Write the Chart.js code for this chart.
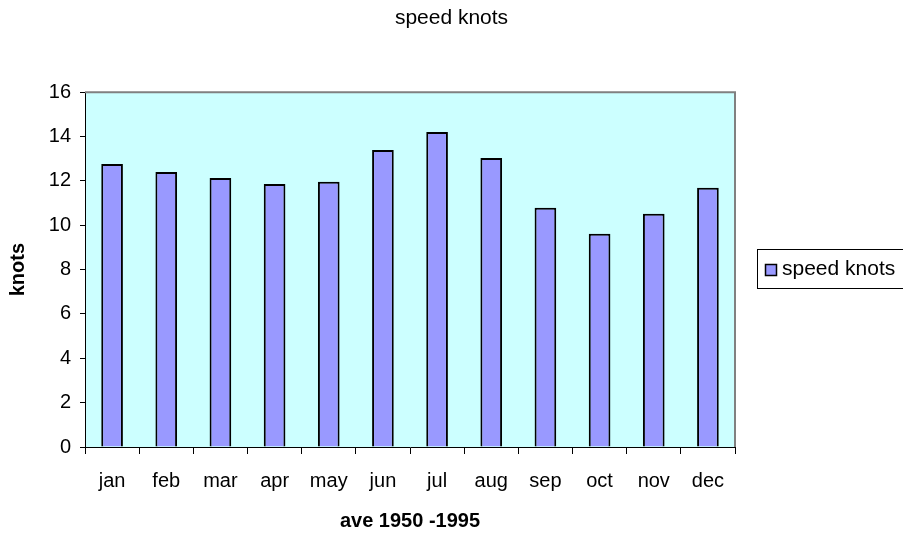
<!DOCTYPE html>
<html>
<head>
<meta charset="utf-8">
<script src="https://cdn.jsdelivr.net/npm/chart.js@4.4.1/dist/chart.umd.min.js"></script>
<style>
html,body{margin:0;padding:0;background:#fff;}
#wrap{width:903px;height:533px;position:relative;}
</style>
</head>
<body>
<div id="wrap"><canvas id="c" width="903" height="533"></canvas></div>
<script>
const categories = ['jan','feb','mar','apr','may','jun','jul','aug','sep','oct','nov','dec'];
const speedKnots = [12.76, 12.4, 12.13, 11.86, 11.96, 13.39, 14.2, 13.03, 10.79, 9.62, 10.52, 11.69];
const seriesLabel = 'speed knots';
const chartTitle = 'speed knots';
const yTitle = 'knots';
const xTitle = 'ave 1950 -1995';
const yTicks = [0, 2, 4, 6, 8, 10, 12, 14, 16];

const FONT = 'Liberation Sans, Arial, sans-serif';

const plotBg = {
  id: 'plotBg',
  beforeDraw(chart) {
    const {ctx, chartArea: a} = chart;
    ctx.save();
    ctx.fillStyle = '#CCFFFF';
    ctx.fillRect(a.left, a.top, a.right - a.left, a.bottom - a.top);
    ctx.restore();
  },
  afterDatasetsDraw(chart) {
    const {ctx, chartArea: a} = chart;
    ctx.save();
    ctx.strokeStyle = '#808080';
    ctx.lineWidth = 2;
    ctx.beginPath();
    ctx.moveTo(a.left, a.top);
    ctx.lineTo(a.right, a.top);
    ctx.lineTo(a.right, a.bottom);
    ctx.stroke();
    ctx.restore();
  }
};

const boxLegend = {
  id: 'boxLegend',
  afterDraw(chart) {
    const {ctx} = chart;
    const ds = chart.data.datasets[0];
    ctx.save();
    ctx.strokeStyle = '#000';
    ctx.lineWidth = 1;
    ctx.strokeRect(757.5, 249.5, 160, 39);
    ctx.fillStyle = ds.backgroundColor;
    ctx.fillRect(765, 264, 12, 12);
    ctx.strokeStyle = '#000';
    ctx.lineWidth = 1.5;
    ctx.strokeRect(765.5, 264.5, 11, 11);
    ctx.fillStyle = '#000';
    ctx.font = '21px ' + FONT;
    ctx.textBaseline = 'middle';
    ctx.fillText(ds.label, 782, 269);
    ctx.restore();
  }
};

new Chart(document.getElementById('c'), {
  type: 'bar',
  data: {
    labels: categories,
    datasets: [{
      label: seriesLabel,
      data: speedKnots,
      backgroundColor: '#9999FF',
      borderColor: '#000000',
      borderWidth: 2,
      barPercentage: 0.4,
      categoryPercentage: 1.0
    }]
  },
  options: {
    responsive: false,
    animation: false,
    layout: {padding: 0},
    plugins: {
      legend: {display: false},
      tooltip: {enabled: false},
      title: {
        display: true,
        text: chartTitle,
        color: '#000',
        font: {family: FONT, size: 21, weight: 'normal'},
        padding: {top: 6, bottom: 61}
      }
    },
    scales: {
      x: {
        grid: {display: true, drawOnChartArea: false, offset: true, color: '#000', tickLength: 7},
        border: {display: true, color: '#000', width: 1},
        ticks: {color: '#000', font: {family: FONT, size: 20}, padding: 15, maxRotation: 0},
        title: {display: true, text: xTitle, color: '#000', font: {family: FONT, size: 20, weight: 'bold'}, padding: {top: 0, bottom: 0}},
        afterFit(scale) { scale.height = 86; }
      },
      y: {
        min: 0, max: 16,
        afterBuildTicks(scale) { scale.ticks = yTicks.map(v => ({value: v})); },
        grid: {display: true, drawOnChartArea: false, color: '#000', tickLength: 5},
        border: {display: true, color: '#000', width: 1},
        ticks: {color: '#000', font: {family: FONT, size: 20}, padding: 9},
        title: {display: true, text: yTitle, color: '#000', font: {family: FONT, size: 20, weight: 'bold'}, padding: {top: 6, bottom: 0}},
        afterFit(scale) { scale.width = 85; }
      },
      legendSpace: {
        type: 'linear',
        position: 'right',
        display: true,
        grid: {display: false},
        border: {display: false},
        ticks: {display: false},
        title: {display: false},
        afterFit(scale) { scale.width = 168; }
      }
    }
  },
  plugins: [plotBg, boxLegend]
});
</script>
</body>
</html>
